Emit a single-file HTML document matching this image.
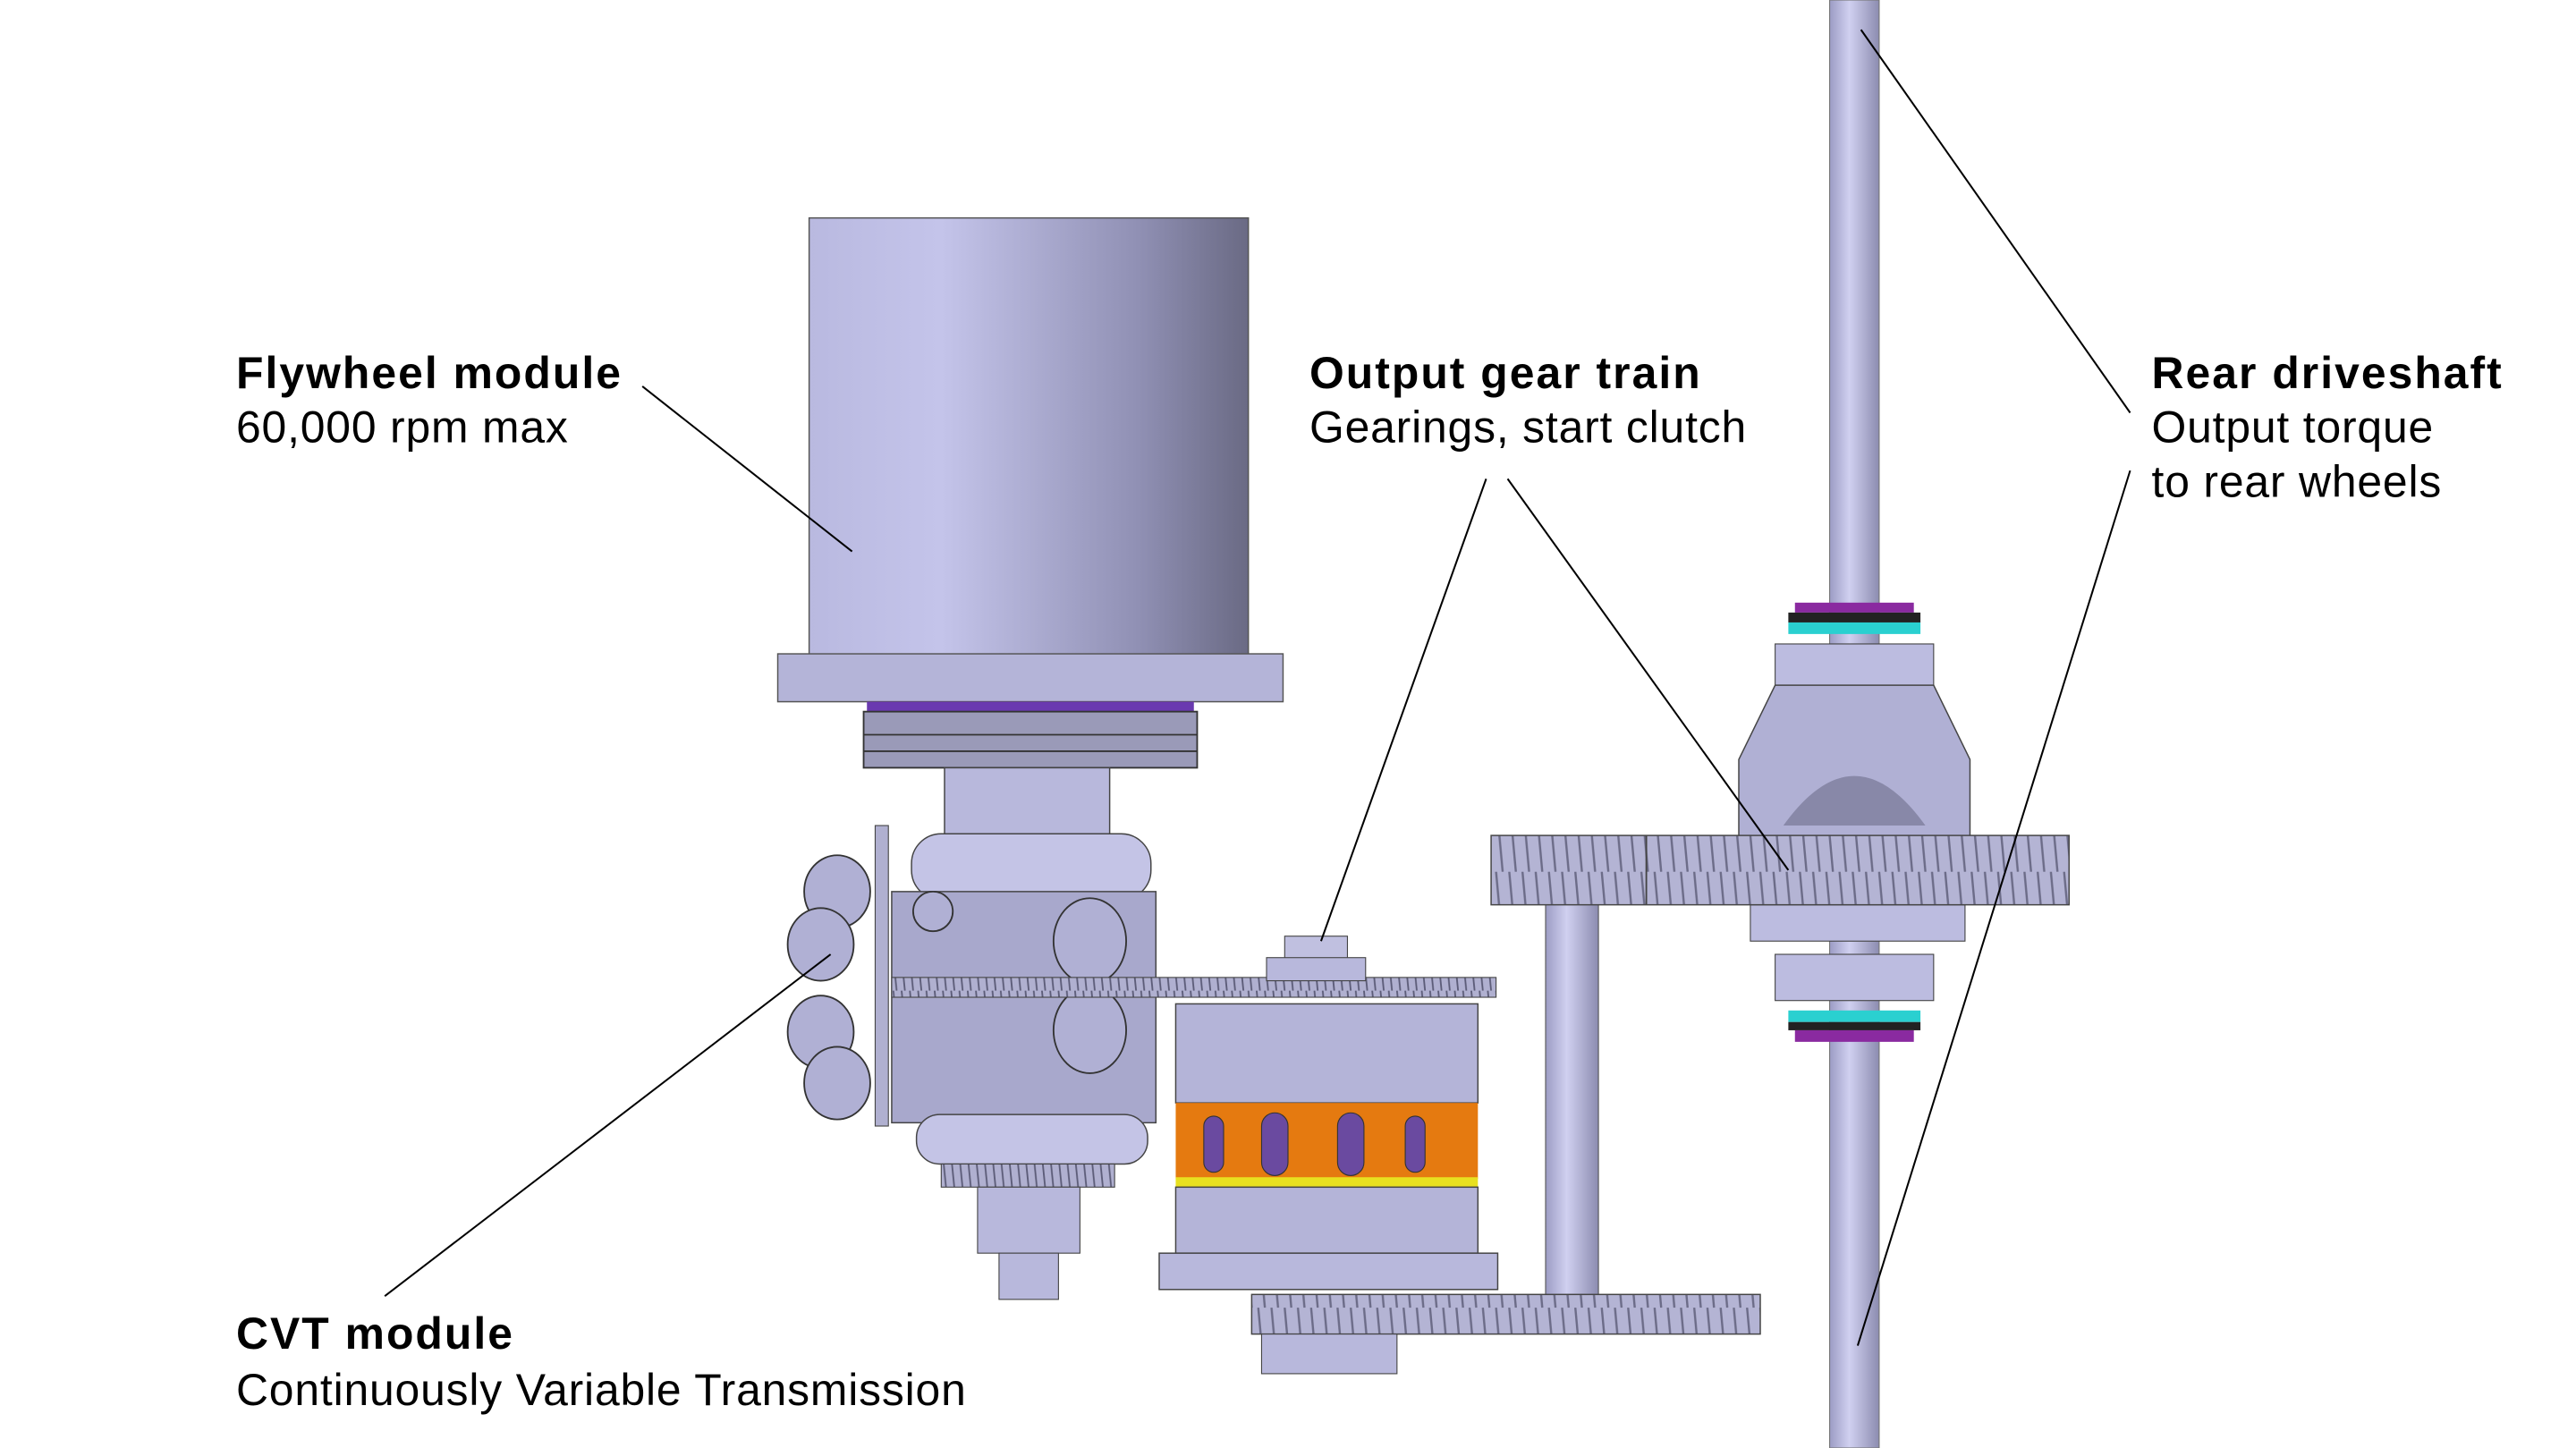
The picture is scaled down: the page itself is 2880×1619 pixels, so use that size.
<!DOCTYPE html>
<html><head><meta charset="utf-8"><style>
html,body{margin:0;padding:0;background:#fff;}
svg{display:block;}
text{font-family:"Liberation Sans",sans-serif;fill:#000;}
.b{font-weight:bold;font-size:27px;letter-spacing:1.1px;}
.r{font-size:27px;letter-spacing:0.45px;}
</style></head><body>
<svg width="2880" height="1619" viewBox="0 0 1560 877" preserveAspectRatio="none" xmlns="http://www.w3.org/2000/svg">
<defs>
<linearGradient id="cyl" x1="0" x2="1" y1="0" y2="0">
<stop offset="0" stop-color="#b9b9e0"/><stop offset="0.3" stop-color="#c4c4ea"/><stop offset="0.75" stop-color="#9090b4"/><stop offset="1" stop-color="#6a6a84"/></linearGradient>
<linearGradient id="shaft" x1="0" x2="1"><stop offset="0" stop-color="#9c9cc4"/><stop offset="0.4" stop-color="#d0d0f0"/><stop offset="1" stop-color="#8c8cb0"/></linearGradient>
<pattern id="teeth" width="8" height="44" patternUnits="userSpaceOnUse"><rect width="8" height="44" fill="#b4b4d4"/><line x1="2" y1="0" x2="6" y2="44" stroke="#6c6c88" stroke-width="1.3"/></pattern>
<pattern id="teeth2" width="5" height="20" patternUnits="userSpaceOnUse"><rect width="5" height="20" fill="#b0b0d0"/><line x1="1" y1="0" x2="3" y2="20" stroke="#5c5c78" stroke-width="1"/></pattern>
</defs>
<rect x="1108" y="0" width="30" height="877" fill="url(#shaft)" stroke="#777" stroke-width="0.6"/>
<rect x="490" y="132" width="266" height="266" fill="url(#cyl)" stroke="#555" stroke-width="0.8"/>
<rect x="471" y="396" width="306" height="29" fill="#b4b4d8" stroke="#555" stroke-width="0.8"/>
<rect x="525" y="425" width="198" height="6" fill="#6a3ab0"/>
<rect x="523" y="431" width="202" height="34" fill="#9a9ab8" stroke="#333" stroke-width="1"/>
<line x1="523" y1="445" x2="725" y2="445" stroke="#333"/><line x1="523" y1="455" x2="725" y2="455" stroke="#333"/>
<rect x="572" y="465" width="100" height="40" fill="#b8b8dc" stroke="#444" stroke-width="0.8"/>
<rect x="552" y="505" width="145" height="40" rx="18" fill="#c4c4e6" stroke="#444" stroke-width="0.8"/>
<rect x="540" y="540" width="160" height="140" fill="#a8a8cc" stroke="#444" stroke-width="0.8"/>
<g fill="#b0b0d4" stroke="#333" stroke-width="1">
<ellipse cx="507" cy="540" rx="20" ry="22"/><ellipse cx="497" cy="572" rx="20" ry="22"/>
<ellipse cx="497" cy="625" rx="20" ry="22"/><ellipse cx="507" cy="656" rx="20" ry="22"/>
<ellipse cx="660" cy="570" rx="22" ry="26"/><ellipse cx="660" cy="624" rx="22" ry="26"/>
<circle cx="565" cy="552" r="12"/>
</g>
<rect x="530" y="500" width="8" height="182" fill="#b0b0d0" stroke="#444" stroke-width="0.6"/>
<rect x="555" y="675" width="140" height="30" rx="14" fill="#c4c4e6" stroke="#444" stroke-width="0.8"/>
<rect x="570" y="705" width="105" height="14" fill="url(#teeth2)" stroke="#444" stroke-width="0.6"/>
<rect x="592" y="719" width="62" height="40" fill="#b8b8dc" stroke="#444" stroke-width="0.6"/>
<rect x="605" y="759" width="36" height="28" fill="#b8b8dc" stroke="#444" stroke-width="0.6"/>
<rect x="540" y="592" width="366" height="12" fill="url(#teeth2)" stroke="#444" stroke-width="0.6"/>
<rect x="778" y="567" width="38" height="14" fill="#c0c0e0" stroke="#444" stroke-width="0.6"/>
<rect x="767" y="580" width="60" height="14" fill="#b8b8dc" stroke="#444" stroke-width="0.6"/>
<rect x="712" y="608" width="183" height="60" fill="#b4b4d8" stroke="#444" stroke-width="0.8"/>
<rect x="712" y="668" width="183" height="46" fill="#e57a10"/>
<g fill="#6a4aa0" stroke="#333" stroke-width="0.6">
<rect x="729" y="676" width="12" height="34" rx="6"/><rect x="764" y="674" width="16" height="38" rx="8"/><rect x="810" y="674" width="16" height="38" rx="8"/><rect x="851" y="676" width="12" height="34" rx="6"/></g>
<rect x="712" y="713" width="183" height="6" fill="#e8e020"/>
<rect x="712" y="719" width="183" height="40" fill="#b4b4d8" stroke="#444" stroke-width="0.8"/>
<rect x="702" y="759" width="205" height="22" fill="#b8b8dc" stroke="#444" stroke-width="0.8"/>
<rect x="936" y="545" width="32" height="245" fill="url(#shaft)" stroke="#555" stroke-width="0.6"/>
<rect x="758" y="784" width="308" height="24" fill="url(#teeth)" stroke="#444" stroke-width="0.8"/>
<rect x="764" y="808" width="82" height="24" fill="#b8b8dc" stroke="#444" stroke-width="0.6"/>
<rect x="1087" y="365" width="72" height="6" fill="#8a2aa0"/>
<rect x="1083" y="371" width="80" height="6" fill="#222"/>
<rect x="1083" y="377" width="80" height="7" fill="#2ad0d0"/>
<rect x="1075" y="390" width="96" height="25" fill="#bcbce0" stroke="#444" stroke-width="0.6"/>
<path d="M1075 415 L1171 415 L1193 460 L1193 510 L1053 510 L1053 460 Z" fill="#b0b0d4" stroke="#444" stroke-width="0.8"/>
<path d="M1080 500 Q1123 440 1166 500 Z" fill="#8888a8"/>
<rect x="1060" y="548" width="130" height="22" fill="#bcbce0" stroke="#444" stroke-width="0.6"/>
<rect x="1075" y="578" width="96" height="28" fill="#bcbce0" stroke="#444" stroke-width="0.6"/>
<rect x="1083" y="612" width="80" height="7" fill="#2ad0d0"/>
<rect x="1083" y="619" width="80" height="5" fill="#222"/>
<rect x="1087" y="624" width="72" height="7" fill="#8a2aa0"/>
<rect x="903" y="506" width="350" height="42" fill="url(#teeth)" stroke="#444" stroke-width="0.8"/>
<line x1="997" y1="506" x2="997" y2="548" stroke="#444"/>
<g stroke="#000" stroke-width="1.1" fill="none">
<line x1="389" y1="234" x2="516" y2="334"/>
<line x1="900" y1="290" x2="800" y2="570"/>
<line x1="913" y1="290" x2="1083" y2="527"/>
<line x1="1290" y1="250" x2="1127" y2="18"/>
<line x1="1290" y1="285" x2="1125" y2="815"/>
<line x1="233" y1="785" x2="503" y2="578"/>
</g>
<text x="143" y="235" class="b">Flywheel module</text>
<text x="143" y="268" class="r">60,000 rpm max</text>
<text x="793" y="235" class="b">Output gear train</text>
<text x="793" y="268" class="r">Gearings, start clutch</text>
<text x="1303" y="235" class="b">Rear driveshaft</text>
<text x="1303" y="268" class="r">Output torque</text>
<text x="1303" y="301" class="r">to rear wheels</text>
<text x="143" y="817" class="b">CVT module</text>
<text x="143" y="851" class="r">Continuously Variable Transmission</text>
</svg>
</body></html>
